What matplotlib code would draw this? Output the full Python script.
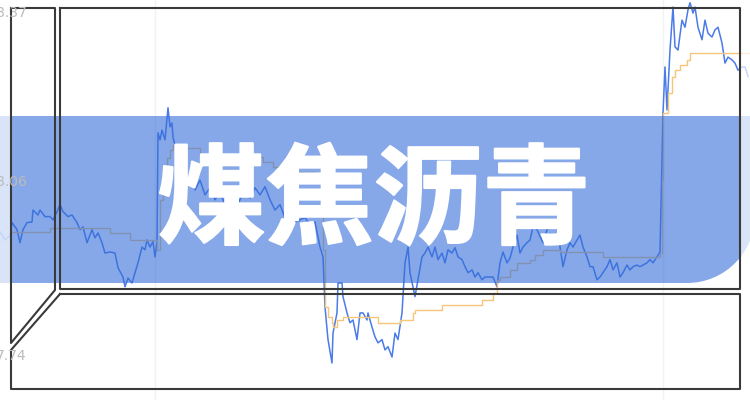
import matplotlib.pyplot as plt
from matplotlib.path import Path
from matplotlib.patches import PathPatch, Rectangle
from matplotlib.transforms import Affine2D
import matplotlib.patheffects as pe

# daily close (blue) and moving average (step line)
days = [0, 5, 10, 12, 17, 20, 23, 27, 32, 33, 38, 40, 45, 50, 53, 57, 60, 63, 68, 72,
        77, 80, 83, 87, 92, 95, 98, 102, 105, 110, 115, 118, 123, 125, 128, 132, 135, 138, 142, 145,
        147, 150, 153, 155, 157, 158, 160, 162, 165, 168, 170, 172, 173, 177, 180, 185, 190, 195, 200, 205,
        210, 215, 220, 225, 230, 235, 240, 245, 250, 255, 260, 265, 270, 275, 280, 285, 290, 295, 300, 305,
        310, 315, 320, 323, 325, 328, 332, 333, 337, 338, 342, 343, 347, 350, 353, 357, 360, 363, 367, 368,
        372, 375, 378, 382, 385, 388, 392, 395, 398, 402, 405, 408, 410, 415, 418, 422, 425, 428, 432, 435,
        438, 442, 445, 448, 452, 455, 458, 462, 465, 468, 472, 475, 478, 482, 485, 488, 493, 497, 500, 503,
        507, 510, 513, 517, 520, 523, 527, 530, 533, 537, 543, 547, 552, 557, 560, 563, 567, 570, 573, 577,
        580, 583, 587, 590, 593, 597, 600, 603, 607, 610, 613, 617, 620, 623, 627, 630, 633, 637, 640, 647,
        650, 653, 657, 660, 663, 665, 667, 670, 673, 675, 678, 682, 685, 688, 690, 693, 695, 698, 702, 705,
        708, 712, 715, 718, 722, 725, 728, 732, 735, 738, 742, 745, 748]
price = [7.966, 7.951, 7.959, 7.983, 7.970, 7.946, 7.970, 7.983, 7.984, 8.006, 7.997, 8.006, 7.994, 7.994, 7.988, 8.003, 8.016, 8.003, 7.994, 7.997,
         7.983, 7.970, 7.975, 7.946, 7.970, 7.955, 7.964, 7.946, 7.927, 7.929, 7.927, 7.900, 7.883, 7.865, 7.881, 7.872, 7.891, 7.909, 7.938, 7.933,
         7.951, 7.938, 7.948, 7.920, 7.946, 8.148, 8.135, 8.153, 8.135, 8.194, 8.159, 8.166, 8.140, 8.111, 8.089, 8.052, 8.065, 8.043, 8.061, 8.034,
         8.047, 8.025, 8.039, 8.016, 8.028, 8.006, 8.025, 8.043, 8.028, 8.047, 8.034, 8.049, 8.025, 8.006, 8.016, 7.992, 8.003, 7.984, 7.988, 7.992,
         7.979, 7.984, 7.938, 7.920, 7.828, 7.768, 7.725, 7.780, 7.817, 7.872, 7.872, 7.847, 7.817, 7.799, 7.804, 7.768, 7.817, 7.817, 7.804, 7.817,
         7.791, 7.773, 7.762, 7.768, 7.749, 7.755, 7.736, 7.780, 7.768, 7.817, 7.909, 7.938, 7.891, 7.847, 7.878, 7.920, 7.927, 7.938, 7.920, 7.938,
         7.915, 7.927, 7.909, 7.933, 7.927, 7.937, 7.920, 7.915, 7.902, 7.891, 7.896, 7.883, 7.891, 7.878, 7.883, 7.883, 7.883, 7.865, 7.909, 7.929,
         7.909, 7.918, 7.938, 7.960, 7.927, 7.938, 7.946, 7.951, 7.975, 7.970, 7.946, 7.970, 7.983, 7.975, 7.938, 7.902, 7.933, 7.946, 7.938, 7.951,
         7.960, 7.938, 7.920, 7.902, 7.902, 7.878, 7.883, 7.891, 7.902, 7.915, 7.896, 7.909, 7.883, 7.891, 7.905, 7.896, 7.902, 7.905, 7.902, 7.909,
         7.915, 7.909, 7.920, 7.929, 8.184, 8.269, 8.190, 8.300, 8.379, 8.306, 8.300, 8.355, 8.342, 8.374, 8.387, 8.368, 8.379, 8.342, 8.319, 8.355,
         8.331, 8.324, 8.337, 8.342, 8.313, 8.276, 8.287, 8.282, 8.276, 8.263, 8.269, 8.269, 8.251]

ma_days = [12, 50, 110, 130, 157, 160, 163, 167, 170, 173, 180, 200, 263, 273, 295, 315, 323, 325, 328, 332,
           333, 337, 343, 378, 400, 413, 415, 442, 482, 493, 497, 500, 510, 517, 530, 535, 543, 560, 603, 660,
           662, 663, 668, 672, 675, 680, 687, 690, 750]
ma_price = [7.966, 7.973, 7.964, 7.951, 7.933, 8.025, 8.071, 8.102, 8.117, 8.126, 8.120, 8.104, 8.094, 8.085, 8.076, 8.065, 7.933, 7.828, 7.810, 7.799,
            7.791, 7.804, 7.810, 7.799, 7.804, 7.817, 7.823, 7.832, 7.841, 7.854, 7.878, 7.883, 7.896, 7.909, 7.915, 7.924, 7.933, 7.929, 7.920, 7.927,
            8.061, 8.184, 8.221, 8.251, 8.263, 8.273, 8.282, 8.295, 8.295]

tick_vals = [8.37, 8.06, 7.74]
tick_labels = ['8.37', '8.06', '7.74']
title = '煤焦沥青'

fig = plt.figure(figsize=(7.5, 4), dpi=100)
ax = fig.add_axes([0, 0, 1, 1])

# price chart underneath
ax.plot(days, price, color='#4a7be8', lw=1.1, zorder=2)
ax.plot(ma_days, ma_price, color='#f5c57a', lw=1, drawstyle='steps-post', zorder=2)
ax.set_xlim(0, 750)
ax.set_ylim(7.657, 8.392)
ax.set_yticks(tick_vals, tick_labels)
ax.set_xticks([155, 663])
ax.set_xticklabels([])
ax.grid(axis='x', color='#f2f2f2', lw=1)
ax.tick_params(axis='y', length=0, pad=-19, labelsize=10, labelcolor='#bbbbbb')
ax.tick_params(axis='x', length=0)
ax.yaxis.set_zorder(5)
for s in ax.spines.values():
    s.set_visible(False)

# banner, frames and title on top, placed in picture pixels (origin top-left)
px = Affine2D().scale(1 / 750, -1 / 400).translate(0, 1) + fig.transFigure

R, r, k = 755, 68, 0.552
band = Path([(-5, 116), (R, 116), (R, 283 - r),
             (R, 283 - r + k * r), (R - r + k * r, 283), (R - r, 283),
             (-5, 283), (-5, 116)],
            [Path.MOVETO, Path.LINETO, Path.LINETO,
             Path.CURVE4, Path.CURVE4, Path.CURVE4,
             Path.LINETO, Path.CLOSEPOLY])
ax.add_patch(PathPatch(band, facecolor='#356ed9', edgecolor='none', alpha=0.6, transform=px, zorder=3))

ax.add_patch(Rectangle((0, 0), 11, 400, facecolor='white', edgecolor='none', alpha=0.7, transform=px, zorder=3.5))
ax.add_patch(Rectangle((740, 0), 10, 400, facecolor='white', edgecolor='none', alpha=0.7, transform=px, zorder=3.5))

fc = '#3a3a3a'
ax.plot([11, 55, 55, 11, 11], [8, 8, 290, 343, 8], color=fc, lw=1.5, transform=px, zorder=4)
ax.plot([60, 740, 740, 60, 60], [8, 8, 289, 289, 8], color=fc, lw=1.5, transform=px, zorder=4)
ax.plot([60, 740, 740, 11, 11, 60], [294, 294, 389, 389, 350, 294], color=fc, lw=1.5, transform=px, zorder=4)

ax.text(374, 204, title, color='white', fontsize=78, fontweight='heavy',
        family=['Noto Sans CJK SC', 'DejaVu Sans'], ha='center', va='center',
        transform=px, zorder=6,
        path_effects=[pe.withStroke(linewidth=1.5, foreground='white')])

fig.savefig('out.png', dpi=100)
